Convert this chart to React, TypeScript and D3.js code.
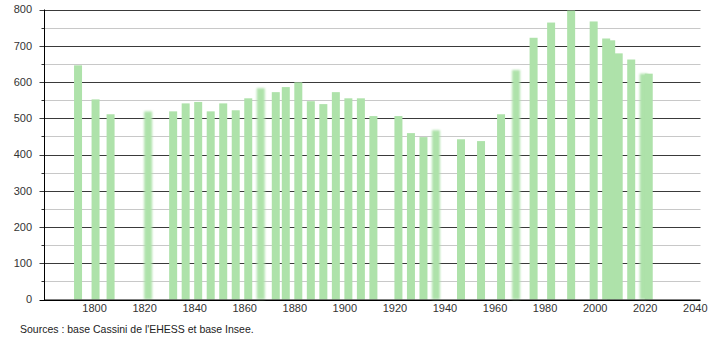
import React from "react";
import * as d3 from "d3";

const years = [
  1793, 1800, 1806, 1821, 1831, 1836, 1841, 1846, 1851, 1856, 1861, 1866, 1872,
  1876, 1881, 1886, 1891, 1896, 1901, 1906, 1911, 1921, 1926, 1931, 1936, 1946,
  1954, 1962, 1968, 1975, 1982, 1990, 1999, 2004, 2006, 2009, 2014, 2019, 2021,
];
const population = [
  646, 552, 511, 519, 519, 541, 545, 519, 541, 522, 555, 583, 572,
  586, 599, 547, 539, 572, 555, 555, 506, 506, 459, 448, 467, 442,
  437, 511, 633, 722, 764, 797, 767, 720, 715, 679, 662, 623, 623,
];
const yTicks = [0, 100, 200, 300, 400, 500, 600, 700, 800];
const yMinorTicks = [50, 150, 250, 350, 450, 550, 650, 750];
const xTicks = [1800, 1820, 1840, 1860, 1880, 1900, 1920, 1940, 1960, 1980, 2000, 2020, 2040];
const blurredYears = [1821, 1866, 1936, 1968, 2019];
const sourceText = "Sources : base Cassini de l'EHESS et base Insee.";

const W = 710;
const H = 340;
const FONT = "'Liberation Sans', Arial, sans-serif";

export default function App() {
  const x = d3.scaleLinear().domain([1780, 2042]).range([45.5, 701.3]);
  const y = d3.scaleLinear().domain([0, 800]).range([299.5, 9.5]);
  const barW = 8;
  const left = 44.5;
  const right = 700.5;
  const data = years.map((yr, i) => ({ yr, v: population[i] }));

  return (
    <svg
      width={W}
      height={H}
      style={{ position: "absolute", left: 0, top: 0, background: "#fff" }}
    >
      <defs>
        <filter id="blur" x="-50%" y="-5%" width="200%" height="110%">
          <feGaussianBlur stdDeviation="1.2" />
        </filter>
      </defs>
      {yMinorTicks.map((t) => (
        <g key={"m" + t}>
          <line x1={left} x2={right} y1={Math.round(y(t)) + 0.5} y2={Math.round(y(t)) + 0.5} stroke="#c8c8c8" strokeWidth={1} />
          <line x1={left - 3} x2={left} y1={Math.round(y(t)) + 0.5} y2={Math.round(y(t)) + 0.5} stroke="#333" strokeWidth={1} />
        </g>
      ))}
      {yTicks.map((t) => (
        <line
          key={"g" + t}
          x1={left - 5}
          x2={right}
          y1={Math.round(y(t)) + 0.5}
          y2={Math.round(y(t)) + 0.5}
          stroke={t === 0 ? "#000" : "#3a3a3a"}
          strokeWidth={1}
        />
      ))}
      {data.map((d) => (
        <rect
          key={d.yr}
          x={x(d.yr) - barW / 2}
          y={y(d.v)}
          width={barW}
          height={y(0) - y(d.v)}
          fill="#aee2aa"
          filter={blurredYears.includes(d.yr) ? "url(#blur)" : undefined}
        />
      ))}
      <line x1={left} x2={right} y1={300} y2={300} stroke="#000" strokeWidth={1} />
      <line x1={left} x2={left} y1={9.5} y2={300} stroke="#000" strokeWidth={1} />
      {yTicks.map((t) => (
        <text
          key={"yl" + t}
          x={32}
          y={y(t)}
          dy="0.35em"
          textAnchor="end"
          fontFamily={FONT}
          fontSize={11}
          fill="#333"
        >
          {t}
        </text>
      ))}
      {xTicks.map((t) => (
        <text
          key={"xl" + t}
          x={x(t) - 1}
          y={312}
          textAnchor="middle"
          fontFamily={FONT}
          fontSize={11}
          fill="#333"
        >
          {t}
        </text>
      ))}
      <text x={20} y={333} fontFamily={FONT} fontSize={10.5} fill="#222">
        {sourceText}
      </text>
    </svg>
  );
}
